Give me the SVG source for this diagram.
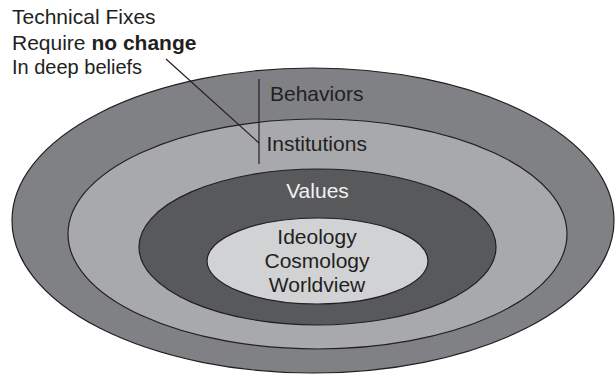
<svg xmlns="http://www.w3.org/2000/svg" width="615" height="378" viewBox="0 0 615 378">
<style>
.ring{stroke:#231f20;stroke-width:1.2}
.t{font-family:"Liberation Sans",Arial,sans-serif;font-size:21px;fill:#231f20}
.c{text-anchor:middle}
.conn{stroke:#231f20;stroke-width:1.2;fill:none}
</style>
<rect width="615" height="378" fill="#ffffff"/>
<g id="behaviors">
<ellipse class="ring" cx="313" cy="220.5" rx="301" ry="152.5" fill="#808184"/>
<text class="t" x="270" y="101">Behaviors</text>
</g>
<g id="institutions">
<ellipse class="ring" cx="317.5" cy="234" rx="249.5" ry="115" fill="#a8a9ac"/>
<text class="t" x="266.5" y="151">Institutions</text>
</g>
<g id="values">
<ellipse class="ring" cx="317.5" cy="247" rx="178.5" ry="78" fill="#58595b"/>
<text class="t c" x="317.5" y="198" style="fill:#f1f1f2">Values</text>
</g>
<g id="worldview">
<ellipse class="ring" cx="317.5" cy="261" rx="110.5" ry="43" fill="#d1d2d4"/>
<text class="t c" x="317" y="244">Ideology</text>
<text class="t c" x="317" y="268">Cosmology</text>
<text class="t c" x="317" y="292">Worldview</text>
</g>
<g id="note">
<text class="t" x="12" y="24">Technical Fixes</text>
<text class="t" x="12" y="50">Require <tspan font-weight="bold">no change</tspan></text>
<text class="t" x="12" y="74" style="font-size:20px">In deep beliefs</text>
</g>
<g id="connectors">
<line class="conn" x1="259" y1="79" x2="259" y2="164"/>
<line class="conn" x1="166" y1="59" x2="259" y2="143"/>
</g>
</svg>
